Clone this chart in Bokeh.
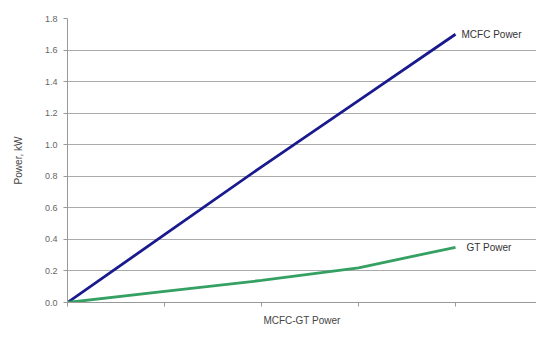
from bokeh.plotting import figure
from bokeh.embed import file_html
from bokeh.resources import INLINE
from bokeh.models import NumeralTickFormatter, FixedTicker, Range1d
from bokeh.core.properties import value

steps = [0, 1, 2, 3, 4]
mcfc_power = [0.0, 0.43, 0.86, 1.28, 1.70]
gt_power = [0.0, 0.07, 0.14, 0.22, 0.35]
series_names = ["MCFC Power", "GT Power"]
y_ticks = [0.0, 0.2, 0.4, 0.6, 0.8, 1.0, 1.2, 1.4, 1.6, 1.8]

p = figure(width=536, height=329, output_backend="svg", toolbar_location=None,
           x_range=Range1d(0, 4.835), y_range=Range1d(0, 1.8),
           min_border_left=67, min_border_right=0, min_border_top=18, min_border_bottom=27)
p.outline_line_color = None
p.background_fill_color = "white"

p.line(steps, mcfc_power, line_color="#1a1a8f", line_width=2.8)
p.line(steps, gt_power, line_color="#34a062", line_width=2.8)

font = value("Liberation Sans")
p.text(x=[steps[-1]], y=[mcfc_power[-1]], text=[series_names[0]], x_offset=6,
       text_baseline="middle", text_font=font, text_font_size="10px", text_color="#333333")
p.text(x=[steps[-1]], y=[gt_power[-1]], text=[series_names[1]], x_offset=11,
       text_baseline="middle", text_font=font, text_font_size="10px", text_color="#333333")

p.yaxis.ticker = FixedTicker(ticks=y_ticks)
p.yaxis.formatter = NumeralTickFormatter(format="0.0")
p.xaxis.ticker = FixedTicker(ticks=steps)
p.xaxis.major_label_overrides = {s: "" for s in steps}

for ax in (p.xaxis, p.yaxis):
    ax.axis_line_color = "#999999"
    ax.major_tick_line_color = "#999999"
    ax.major_tick_out = 4
    ax.major_tick_in = 0
    ax.minor_tick_line_color = None
    ax.major_label_text_font = "Liberation Sans"
    ax.major_label_text_font_size = "9px"
    ax.major_label_text_color = "#666666"
    ax.axis_label_text_font = "Liberation Sans"
    ax.axis_label_text_font_size = "10px"
    ax.axis_label_text_font_style = "normal"
    ax.axis_label_text_color = "#444444"

p.xaxis.major_label_standoff = 0
p.xaxis.axis_label = "MCFC-GT Power"
p.xaxis.axis_label_standoff = 8
p.yaxis.axis_label = "Power, kW"
p.yaxis.axis_label_standoff = 18
p.yaxis.major_label_standoff = 6

p.xgrid.grid_line_color = None
p.ygrid.grid_line_color = "#aaaaaa"
p.ygrid.grid_line_width = 1

open("out.html", "w").write(file_html(p, INLINE))
